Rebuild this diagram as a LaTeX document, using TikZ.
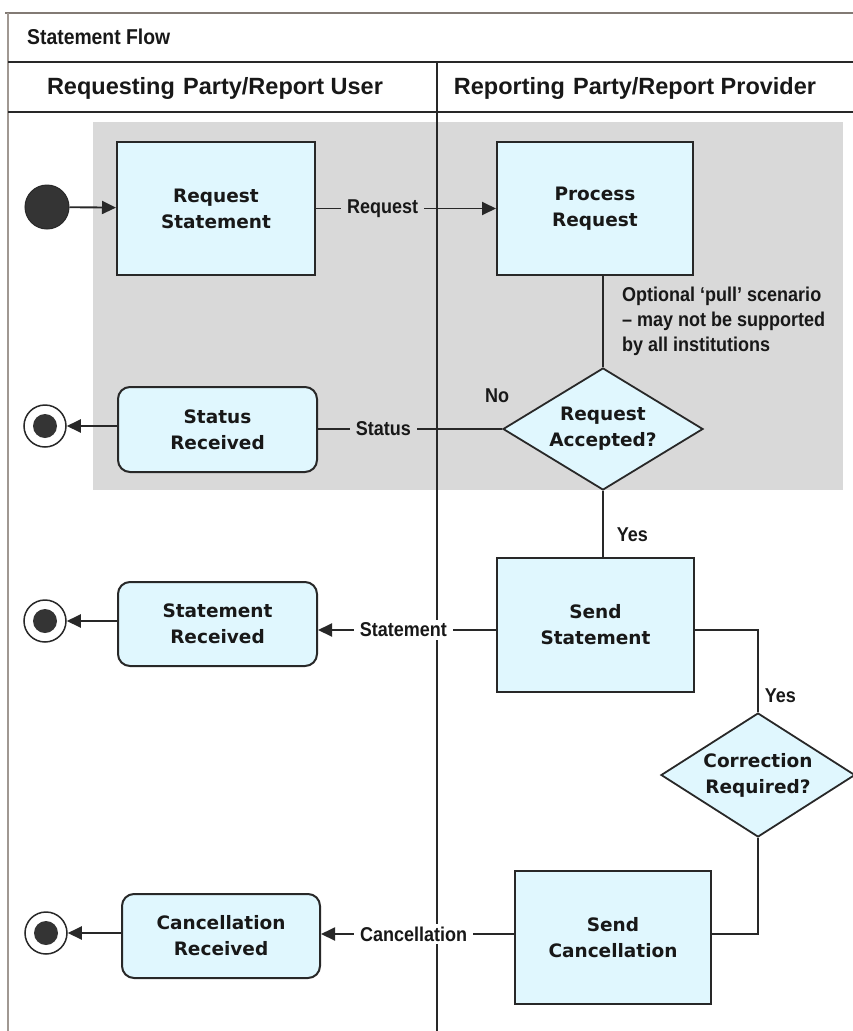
\documentclass[tikz,border=0pt]{standalone}
\usepackage{fontspec}
\setmainfont{DejaVu Sans}
\newfontfamily\boxfamily{DejaVu Sans}
\newfontfamily\lblfamily{Liberation Sans}[FakeStretch=0.9]
\newfontfamily\headfamily{Liberation Sans}
\usetikzlibrary{arrows.meta,shapes.geometric}
\definecolor{boxfill}{RGB}{224,247,254}
\definecolor{grayfill}{RGB}{217,217,217}
\definecolor{linec}{RGB}{40,40,40}
\definecolor{txt}{RGB}{24,24,24}
\definecolor{topc}{RGB}{130,122,116}
\definecolor{leftc}{RGB}{160,152,146}
\definecolor{dotc}{RGB}{52,52,52}
\newcommand\boxfnt{\boxfamily\bfseries\fontsize{18.5}{26}\selectfont}
\newcommand\lblfnt{\lblfamily\bfseries\fontsize{20}{25}\selectfont}
\newcommand\headfnt{\headfamily\bfseries\fontsize{23.5}{26}\selectfont}
\newcommand\titlefnt{\lblfamily\bfseries\fontsize{21.5}{24}\selectfont}
\begin{document}
\begin{tikzpicture}[x=1pt,y=-1pt,
  box/.style={draw=linec, line width=2pt, fill=boxfill, align=center, font=\boxfnt, text=txt, inner sep=0pt},
  rbox/.style={box, rounded corners=12pt},
  dec/.style={diamond, draw=linec, line width=1.8pt, fill=boxfill, inner sep=0pt},
  dectext/.style={font=\boxfnt, text=txt, align=center, inner sep=0pt},
  conn/.style={draw=linec, line width=1.9pt},
  arr/.style={conn, -{Triangle[length=14pt,width=13pt]}},
  lbl/.style={font=\lblfnt, text=txt, inner xsep=6pt, inner ysep=3pt, fill=white},
  glbl/.style={lbl, fill=grayfill},
  plbl/.style={font=\lblfnt, text=txt, inner sep=0pt},
  startc/.style={circle, draw=linec, line width=1pt, fill=dotc, minimum size=44pt, inner sep=0pt},
  endc/.style={circle, draw=linec, line width=1.5pt, fill=white, minimum size=42pt, inner sep=0pt,
    path picture={\fill[dotc] (path picture bounding box.center) circle (12pt);}},
  frameline/.style={draw=linec, line width=2.2pt}
]
\useasboundingbox (0,0) rectangle (853,1031);
% shaded region
\fill[grayfill] (93,122) rectangle (843,490);
% swimlane frame
\draw[topc, line width=1.5pt] (5,13) -- (853,13);
\draw[leftc, line width=1.5pt] (8,13) -- (8,1031);
\draw[frameline] (8,62) -- (853,62);
\draw[frameline] (8,112) -- (853,112);
\draw[frameline] (437,62) -- (437,1031);
\node[anchor=west, font=\titlefnt, text=txt, inner sep=0pt] (title) at (27,37) {Statement Flow};
\node[font=\headfnt, text=txt, inner sep=0pt] (hleft) at (215,88) {Requesting\hspace{0.35em}Party/Report User};
\node[font=\headfnt, text=txt, inner sep=0pt] (hright) at (635,88) {Reporting\hspace{0.35em}Party/Report Provider};
% nodes
\node[startc] (start) at (47,207) {};
\node[box, minimum width=198pt, minimum height=133pt] (RS) at (216,208.5) {Request\\Statement};
\node[box, minimum width=196pt, minimum height=133pt] (PR) at (595,208.5) {Process\\Request};
\node[dec, minimum width=200pt, minimum height=122pt,
  label={[dectext]center:Request\\Accepted?}] (RA) at (603,429) {};
\node[rbox, minimum width=199pt, minimum height=85pt] (SR) at (217.5,429.5) {Status\\Received};
\node[endc] (end1) at (45,426) {};
\node[box, minimum width=197pt, minimum height=134pt] (SS) at (595.5,625) {Send\\Statement};
\node[rbox, minimum width=199pt, minimum height=84pt] (StR) at (217.5,624) {Statement\\Received};
\node[endc] (end2) at (45,621) {};
\node[dec, minimum width=194pt, minimum height=124pt,
  label={[dectext]center:Correction\\Required?}] (CQ) at (758,775) {};
\node[box, minimum width=196pt, minimum height=133pt] (SC) at (613,937.5) {Send\\Cancellation};
\node[rbox, minimum width=198pt, minimum height=84pt] (CR) at (221,936) {Cancellation\\Received};
\node[endc] (end3) at (46,933) {};
\node[plbl] (no) at (497,396) {No};
\node[plbl, anchor=north west, align=left] (note) at (622,287) {Optional ‘pull’ scenario\\– may not be supported\\by all institutions};
% connectors
\draw[arr] (start) -- (RS);
\draw[arr] (RS) -- node[glbl, pos=0.37] {Request} (PR);
\draw[conn] (PR.south -| RA.north) -- (RA.north);
\draw[conn] (RA.west) -- node[glbl, pos=0.645] {Status} (RA.west -| SR.east);
\draw[arr] (SR.west |- end1) -- (end1);
\draw[conn] (RA.south) -- (RA.south |- SS.north) node[plbl, pos=0.66, anchor=west, xshift=13pt] {Yes};
\draw[arr] ([yshift=-5pt]SS.west) -- node[lbl, pos=0.52] {Statement} ([yshift=-5pt]SS.west -| StR.east);
\draw[arr] (StR.west |- end2) -- (end2);
\draw[conn] ([yshift=-5pt]SS.east) -| (CQ.north) node[plbl, pos=0.9, anchor=west, xshift=6pt] {Yes};
\draw[conn] (CQ.south) |- ([yshift=3.5pt]SC.east);
\draw[arr] ([yshift=3.5pt]SC.west) -- node[lbl, pos=0.52] {Cancellation} ([yshift=3.5pt]SC.west -| CR.east);
\draw[arr] (CR.west |- end3) -- (end3);
\end{tikzpicture}
\end{document}
